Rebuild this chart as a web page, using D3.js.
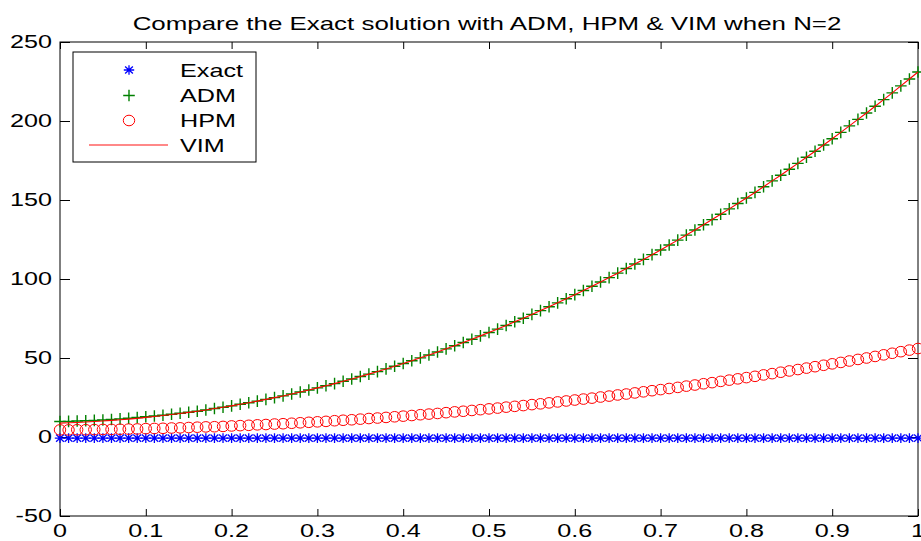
<!DOCTYPE html>
<html>
<head>
<meta charset="utf-8">
<script src="https://cdn.jsdelivr.net/npm/d3@7"></script>
<style>
  html, body { margin: 0; padding: 0; background: #fff; }
  svg { display: block; font-family: "Liberation Sans", Arial, sans-serif; }
</style>
</head>
<body>
<svg id="chart" width="921" height="541"></svg>
<script>
// sample points on x
const xValues = [
  0.00, 0.01, 0.02, 0.03, 0.04, 0.05, 0.06, 0.07, 0.08, 0.09,
  0.10, 0.11, 0.12, 0.13, 0.14, 0.15, 0.16, 0.17, 0.18, 0.19,
  0.20, 0.21, 0.22, 0.23, 0.24, 0.25, 0.26, 0.27, 0.28, 0.29,
  0.30, 0.31, 0.32, 0.33, 0.34, 0.35, 0.36, 0.37, 0.38, 0.39,
  0.40, 0.41, 0.42, 0.43, 0.44, 0.45, 0.46, 0.47, 0.48, 0.49,
  0.50, 0.51, 0.52, 0.53, 0.54, 0.55, 0.56, 0.57, 0.58, 0.59,
  0.60, 0.61, 0.62, 0.63, 0.64, 0.65, 0.66, 0.67, 0.68, 0.69,
  0.70, 0.71, 0.72, 0.73, 0.74, 0.75, 0.76, 0.77, 0.78, 0.79,
  0.80, 0.81, 0.82, 0.83, 0.84, 0.85, 0.86, 0.87, 0.88, 0.89,
  0.90, 0.91, 0.92, 0.93, 0.94, 0.95, 0.96, 0.97, 0.98, 0.99,
  1.00
];

const exactValues = [
  -0.7, -0.7, -0.7, -0.7, -0.7, -0.7, -0.7, -0.7, -0.7, -0.7,
  -0.7, -0.7, -0.7, -0.7, -0.7, -0.7, -0.7, -0.7, -0.7, -0.7,
  -0.7, -0.7, -0.7, -0.7, -0.7, -0.7, -0.7, -0.7, -0.7, -0.7,
  -0.7, -0.7, -0.7, -0.7, -0.7, -0.7, -0.7, -0.7, -0.7, -0.7,
  -0.7, -0.7, -0.7, -0.7, -0.7, -0.7, -0.7, -0.7, -0.7, -0.7,
  -0.7, -0.7, -0.7, -0.7, -0.7, -0.7, -0.7, -0.7, -0.7, -0.7,
  -0.7, -0.7, -0.7, -0.7, -0.7, -0.7, -0.7, -0.7, -0.7, -0.7,
  -0.7, -0.7, -0.7, -0.7, -0.7, -0.7, -0.7, -0.7, -0.7, -0.7,
  -0.7, -0.7, -0.7, -0.7, -0.7, -0.7, -0.7, -0.7, -0.7, -0.7,
  -0.7, -0.7, -0.7, -0.7, -0.7, -0.7, -0.7, -0.7, -0.7, -0.7,
  -0.7
];

const admValues = [
  9.8, 9.9, 10.1, 10.3, 10.5, 10.8, 11.1, 11.5, 11.9, 12.3,
  12.8, 13.3, 13.8, 14.4, 15.0, 15.7, 16.3, 17.1, 18.0, 18.8,
  19.7, 20.7, 21.7, 22.7, 23.8, 24.9, 26.0, 27.2, 28.5, 29.7,
  31.1, 32.4, 33.8, 35.3, 36.7, 38.3, 39.8, 41.4, 43.1, 44.8,
  46.5, 48.3, 50.1, 51.9, 53.8, 55.8, 57.8, 59.8, 61.9, 64.0,
  66.1, 68.3, 70.6, 72.9, 75.2, 77.6, 80.0, 82.4, 84.9, 87.5,
  90.1, 92.7, 95.4, 98.1, 100.9, 103.7, 106.6, 109.5, 112.4, 115.4,
  118.4, 121.5, 124.6, 127.8, 131.0, 134.3, 137.6, 141.0, 144.4, 147.8,
  151.3, 154.8, 158.4, 162.1, 165.7, 169.5, 173.2, 177.1, 180.9, 184.8,
  188.8, 192.8, 196.9, 201.0, 205.1, 209.3, 213.5, 217.8, 222.2, 226.6,
  231.0
];

const hpmValues = [
  4.5, 4.5, 4.6, 4.6, 4.7, 4.8, 4.8, 4.9, 5.0, 5.1,
  5.3, 5.4, 5.5, 5.7, 5.8, 6.0, 6.2, 6.4, 6.5, 6.7,
  7.0, 7.2, 7.4, 7.7, 7.9, 8.2, 8.4, 8.7, 9.0, 9.3,
  9.6, 9.9, 10.3, 10.6, 10.9, 11.3, 11.7, 12.0, 12.4, 12.8,
  13.2, 13.6, 14.1, 14.5, 14.9, 15.4, 15.9, 16.3, 16.8, 17.3,
  17.8, 18.3, 18.9, 19.4, 19.9, 20.5, 21.0, 21.6, 22.2, 22.8,
  23.4, 24.0, 24.6, 25.3, 25.9, 26.6, 27.2, 27.9, 28.6, 29.3,
  30.0, 30.7, 31.4, 32.2, 32.9, 33.7, 34.4, 35.2, 36.0, 36.8,
  37.6, 38.4, 39.3, 40.1, 41.0, 41.8, 42.7, 43.6, 44.5, 45.4,
  46.3, 47.2, 48.1, 49.1, 50.0, 51.0, 52.0, 53.0, 54.0, 55.0,
  56.0
];

const vimValues = [
  8.8, 9.0, 9.2, 9.5, 9.8, 10.1, 10.5, 10.9, 11.3, 11.8,
  12.4, 13.0, 13.6, 14.2, 14.9, 15.6, 16.3, 17.1, 18.0, 18.8,
  19.7, 20.7, 21.7, 22.7, 23.8, 24.9, 26.0, 27.2, 28.5, 29.7,
  31.1, 32.4, 33.8, 35.3, 36.7, 38.3, 39.8, 41.4, 43.1, 44.8,
  46.5, 48.3, 50.1, 51.9, 53.8, 55.8, 57.8, 59.8, 61.9, 64.0,
  66.1, 68.3, 70.6, 72.9, 75.2, 77.6, 80.0, 82.4, 84.9, 87.5,
  90.1, 92.7, 95.4, 98.1, 100.9, 103.7, 106.6, 109.5, 112.4, 115.4,
  118.4, 121.5, 124.6, 127.8, 131.0, 134.3, 137.6, 141.0, 144.4, 147.8,
  151.3, 154.8, 158.4, 162.1, 165.7, 169.5, 173.2, 177.1, 180.9, 184.8,
  188.8, 192.8, 196.9, 201.0, 205.1, 209.3, 213.5, 217.8, 222.2, 226.6,
  231.0
];

const xTicks = [0, 0.1, 0.2, 0.3, 0.4, 0.5, 0.6, 0.7, 0.8, 0.9, 1];
const yTicks = [-50, 0, 50, 100, 150, 200, 250];
const legendLabels = ['Exact', 'ADM', 'HPM', 'VIM'];
const titleText = 'Compare the Exact solution with ADM, HPM & VIM when N=2';

// the picture is stretched sideways, so text gets a horizontal scale
const stretch = 1.4;
const fontSize = 18;

const svg = d3.select('#chart');
const plotLeft = 60, plotRight = 918, plotTop = 42, plotBottom = 516;

const x = d3.scaleLinear().domain([0, 1]).range([plotLeft, plotRight]);
const y = d3.scaleLinear().domain([-50, 250]).range([plotBottom, plotTop]);

function addText(g, tx, ty, str, anchor, size) {
  return g.append('text')
    .attr('transform', `translate(${tx},${ty}) scale(${stretch},1)`)
    .attr('text-anchor', anchor)
    .attr('font-size', size)
    .attr('fill', '#000')
    .text(str);
}

// title
addText(svg, 487, 29.5, titleText, 'middle', 18.5);

// axis box
svg.append('rect')
  .attr('x', plotLeft).attr('y', plotTop)
  .attr('width', plotRight - plotLeft).attr('height', plotBottom - plotTop)
  .attr('fill', 'none').attr('stroke', '#000').attr('stroke-width', 1);

// ticks, inward on all four sides
const tickLen = 7, ytickLen = 10;
const xAxisBottom = d3.axisBottom(x).tickValues(xTicks).tickSize(-tickLen).tickFormat('');
const xAxisTop = d3.axisTop(x).tickValues(xTicks).tickSize(-tickLen).tickFormat('');
const yAxisLeft = d3.axisLeft(y).tickValues(yTicks).tickSize(-ytickLen).tickFormat('');
const yAxisRight = d3.axisRight(y).tickValues(yTicks).tickSize(-ytickLen).tickFormat('');

svg.append('g').attr('transform', `translate(0,${plotBottom})`).call(xAxisBottom);
svg.append('g').attr('transform', `translate(0,${plotTop})`).call(xAxisTop);
svg.append('g').attr('transform', `translate(${plotLeft},0)`).call(yAxisLeft);
svg.append('g').attr('transform', `translate(${plotRight},0)`).call(yAxisRight);
svg.selectAll('.domain').remove();
svg.selectAll('.tick line').attr('stroke', '#000');

// tick labels
const labels = svg.append('g');
xTicks.forEach((t) => {
  addText(labels, x(t), 536.5, String(t), 'middle', fontSize);
});
yTicks.forEach((t) => {
  addText(labels, 52, y(t) + 6.4, String(t), 'end', fontSize);
});

// marker shapes
function asterisk(g, cx, cy, color) {
  const hx = 5.2, hy = 4.8;
  const p = `M${cx - hx},${cy}L${cx + hx},${cy}M${cx},${cy - hy}L${cx},${cy + hy}` +
    `M${cx - hx * 0.75},${cy - hy * 0.75}L${cx + hx * 0.75},${cy + hy * 0.75}` +
    `M${cx - hx * 0.75},${cy + hy * 0.75}L${cx + hx * 0.75},${cy - hy * 0.75}`;
  g.append('path').attr('d', p).attr('stroke', color).attr('stroke-width', 1.3).attr('fill', 'none');
}
function plus(g, cx, cy, color) {
  const h = 5.8;
  g.append('path')
    .attr('d', `M${cx - h},${cy}L${cx + h},${cy}M${cx},${cy - h}L${cx},${cy + h}`)
    .attr('stroke', color).attr('stroke-width', 1.4).attr('fill', 'none');
}
function circle(g, cx, cy, color) {
  g.append('ellipse')
    .attr('cx', cx).attr('cy', cy).attr('rx', 5.7).attr('ry', 5.3)
    .attr('stroke', color).attr('stroke-width', 1).attr('fill', 'none');
}

const exactG = svg.append('g');
xValues.forEach((xv, i) => asterisk(exactG, x(xv), y(exactValues[i]), '#0000ff'));

const admG = svg.append('g');
xValues.forEach((xv, i) => plus(admG, x(xv), y(admValues[i]), '#008000'));

const hpmG = svg.append('g');
xValues.forEach((xv, i) => circle(hpmG, x(xv), y(hpmValues[i]), '#ff0000'));

const line = d3.line().x((d) => x(d[0])).y((d) => y(d[1]));
svg.append('path')
  .datum(xValues.map((xv, i) => [xv, vimValues[i]]))
  .attr('d', line)
  .attr('fill', 'none')
  .attr('stroke', '#ff0000')
  .attr('stroke-width', 1.1);

// legend
const legend = svg.append('g');
legend.append('rect')
  .attr('x', 73).attr('y', 52).attr('width', 183).attr('height', 110)
  .attr('fill', '#fff').attr('stroke', '#000').attr('stroke-width', 1);

const rowY = [70, 95.5, 120.5, 145];
asterisk(legend, 129, rowY[0], '#0000ff');
plus(legend, 129, rowY[1], '#008000');
circle(legend, 129, rowY[2], '#ff0000');
legend.append('line')
  .attr('x1', 89).attr('x2', 168).attr('y1', rowY[3]).attr('y2', rowY[3])
  .attr('stroke', '#ff6060').attr('stroke-width', 1.5);

legendLabels.forEach((lab, i) => {
  addText(legend, 180, rowY[i] + 6.6, lab, 'start', fontSize);
});
</script>
</body>
</html>
